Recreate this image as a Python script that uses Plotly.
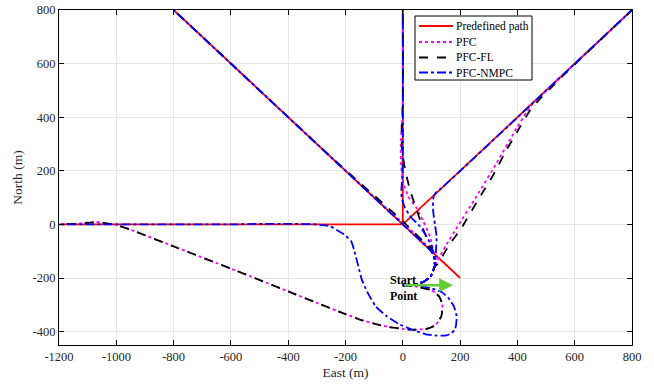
import plotly.graph_objects as go

# ---------------- data ----------------
x_ticks = [-1200, -1000, -800, -600, -400, -200, 0, 200, 400, 600, 800]
x_tick_labels = ["-1200", "-1000", "-800", "-600", "-400", "-200", "0", "200", "400", "600", "800"]
y_ticks = [-400, -200, 0, 200, 400, 600, 800]
y_tick_labels = ["-400", "-200", "0", "200", "400", "600", "800"]

# Predefined path segments (east, north); None separates segments
path_east = [-1200, 0, None, 200, -800, None, 0, 800, None, 0, 0]
path_north = [0, 0, None, -200, 800, None, 0, 800, None, 0, 800]

# common start approach (up to the cusp)
start_east = [0, 40, 75, 98, 112]
start_north = [-227, -225, -213, -192, -155]

# ----- PFC -----
pfc_w_east = [0, 50, 100, 128, 138, 135, 115, 80, 30, 0, -50, -100, -150, -200, -300, -400, -600, -800, -950, -1000, -1040, -1070, -1100, -1140, -1200]
pfc_w_north = [-227, -232, -245, -270, -300, -340, -375, -390, -393, -390, -383, -370, -355, -335, -293, -250, -165, -82, -20, -2, 6, 9, 7, 2, 0]
pfc_nw_east = [116, 105, 80, 40, 0, -40, -100, -200, -800]
pfc_nw_north = [-140, -104, -75, -33, 5, 43, 101, 200, 800]
pfc_n_east = [116, 105, 95, 70, 48, 19, 2, -6, -7, -3, 0, 0]
pfc_n_north = [-140, -90, -45, 15, 61, 104, 154, 220, 300, 380, 450, 800]
pfc_ne_east = [118, 150, 190, 258, 328, 398, 430, 455, 480, 520, 800]
pfc_ne_north = [-140, -80, -10, 106, 230, 360, 415, 452, 478, 518, 800]

# ----- PFC-FL -----
fl_w_east = [0, 50, 100, 128, 138, 135, 115, 80, 30, 0, -50, -100, -150, -200, -300, -400, -600, -800, -950, -1000, -1040, -1070, -1100, -1140, -1200]
fl_w_north = [-227, -233, -246, -271, -301, -341, -376, -391, -393, -390, -383, -370, -355, -335, -293, -250, -165, -82, -20, -2, 5, 8, 6, 2, 0]
fl_nw_east = [112, 102, 70, 30, -10, -50, -100, -150, -250, -800]
fl_nw_north = [-150, -100, -62, -20, 22, 60, 108, 155, 251, 800]
fl_n_east = [112, 95, 72, 48, 25, 8, -3, -4, 0, 0]
fl_n_north = [-150, -82, -20, 55, 129, 204, 280, 350, 450, 800]
fl_ne_east = [120, 160, 205, 263, 316, 363, 410, 444, 480, 525, 560, 800]
fl_ne_north = [-150, -80, -13, 92, 185, 280, 365, 425, 470, 518, 556, 800]

# ----- PFC-NMPC -----
nmpc_w_east = [0, 43, 96, 135, 159, 178, 188, 186, 182, 170, 153, 118, 80, 48, 15, -10, -56, -95, -125, -143, -152, -161, -170, -180, -200, -213, -254, -300, -400, -500, -600, -1200]
nmpc_w_north = [-227, -227, -237, -252, -274, -305, -343, -375, -392, -406, -414, -415, -410, -399, -385, -374, -343, -305, -250, -206, -170, -132, -95, -63, -42, -32, -7, 0, 2, 2, 0, 0]
nmpc_nw_east = [112, 108, 80, 0, -800]
nmpc_nw_north = [-155, -112, -80, 0, 800]
nmpc_n_east = [112, 108, 101, 80, 60, 30, 8, -4, -5, -2, 0, 0]
nmpc_n_north = [-155, -115, -82, -40, -7, 25, 61, 100, 130, 170, 250, 800]
nmpc_ne_east = [112, 116, 118, 112, 106, 106, 115, 135, 800]
nmpc_ne_north = [-155, -94, -45, 0, 50, 95, 118, 135, 800]

series_names = ["Predefined path", "PFC", "PFC-FL", "PFC-NMPC"]
start_label = "Start<br>Point"
arrow_tip = (175, -227)
arrow_tail = (0, -227)


def join(parts):
    out = []
    for i, p in enumerate(parts):
        if i:
            out.append(None)
        out.extend(p)
    return out


def with_start(e, n):
    return start_east + e, start_north + n


groups = {
    "PFC": [(pfc_w_east, pfc_w_north), with_start(pfc_nw_east, pfc_nw_north),
            with_start(pfc_n_east, pfc_n_north), with_start(pfc_ne_east, pfc_ne_north)],
    "PFC-FL": [(fl_w_east, fl_w_north), with_start(fl_nw_east, fl_nw_north),
               with_start(fl_n_east, fl_n_north), with_start(fl_ne_east, fl_ne_north)],
    "PFC-NMPC": [(nmpc_w_east, nmpc_w_north), with_start(nmpc_nw_east, nmpc_nw_north),
                 with_start(nmpc_n_east, nmpc_n_north), with_start(nmpc_ne_east, nmpc_ne_north)],
}

styles = {
    "Predefined path": dict(color="#ff0000", dash="solid", width=1.8),
    "PFC": dict(color="#ff00ff", dash="dot", width=1.8),
    "PFC-FL": dict(color="#000000", dash="dash", width=1.8),
    "PFC-NMPC": dict(color="#0000ff", dash="dashdot", width=1.8),
}

FONT = "Liberation Serif, Times New Roman, serif"

# plot area in window pixels (for placing the hand-drawn legend)
PL, PR, PT, PB = 59, 632, 10, 345


def px2paper_x(px):
    return (px - PL) / (PR - PL)


def px2paper_y(py):
    return (PB - py) / (PB - PT)


fig = go.Figure()
fig.add_trace(go.Scatter(x=path_east, y=path_north, mode="lines", name=series_names[0],
                         showlegend=False, line=styles["Predefined path"]))
for name in series_names[1:]:
    xs = join([g[0] for g in groups[name]])
    ys = join([g[1] for g in groups[name]])
    fig.add_trace(go.Scatter(x=xs, y=ys, mode="lines", name=name, showlegend=False,
                             line=dict(shape="spline", smoothing=0.45, **styles[name])))

# hand-drawn legend box (MATLAB-like compact spacing)
fig.add_shape(type="rect", xref="paper", yref="paper",
              x0=px2paper_x(415), x1=px2paper_x(532), y0=px2paper_y(80), y1=px2paper_y(16),
              line=dict(color="black", width=1), fillcolor="white", layer="above")
row_y = [26, 42, 57.5, 72.5]
for name, ry in zip(series_names, row_y):
    st = styles[name]
    fig.add_shape(type="line", xref="paper", yref="paper",
                  x0=px2paper_x(419), x1=px2paper_x(453), y0=px2paper_y(ry), y1=px2paper_y(ry),
                  line=dict(color=st["color"], dash=st["dash"], width=st["width"]), layer="above")
    fig.add_annotation(xref="paper", yref="paper", x=px2paper_x(454), y=px2paper_y(ry),
                       text=name, showarrow=False, xanchor="left", yanchor="middle",
                       font=dict(family=FONT, size=11.5, color="black"))

fig.add_annotation(x=arrow_tip[0], y=arrow_tip[1], ax=arrow_tail[0], ay=arrow_tail[1],
                   xref="x", yref="y", axref="x", ayref="y", text="",
                   showarrow=True, arrowhead=2, arrowsize=1.1, arrowwidth=2.5,
                   arrowcolor="#66cc33")
fig.add_annotation(x=-52, y=-238, xref="x", yref="y", text="<b>" + start_label + "</b>",
                   showarrow=False, xanchor="left", yanchor="middle", align="left",
                   font=dict(family=FONT, size=12, color="black"))

axis_common = dict(showline=True, linecolor="black", linewidth=1, mirror="ticks",
                   ticks="inside", ticklen=5, tickcolor="black", showgrid=True,
                   gridcolor="#e6e6e6", gridwidth=1, zeroline=False, automargin=False,
                   tickfont=dict(family=FONT, size=12.5, color="#262626"))

fig.update_xaxes(range=[-1200, 800], tickvals=x_ticks, ticktext=x_tick_labels,
                 title=dict(text="East (m)", font=dict(family=FONT, size=13.5, color="#262626"), standoff=4),
                 **axis_common)
fig.update_yaxes(range=[-450, 800], tickvals=y_ticks, ticktext=y_tick_labels,
                 title=dict(text="North (m)", font=dict(family=FONT, size=13.5, color="#262626"), standoff=6),
                 **axis_common)

fig.update_layout(
    width=654, height=384,
    margin=dict(l=PL, r=654 - PR, t=PT, b=384 - PB),
    plot_bgcolor="white", paper_bgcolor="white",
    font=dict(family=FONT, size=12, color="black"),
    showlegend=False,
)

fig.write_html("out.html", config={"displayModeBar": False},
               post_script="document.body.style.margin='0';document.body.style.overflow='hidden';")
